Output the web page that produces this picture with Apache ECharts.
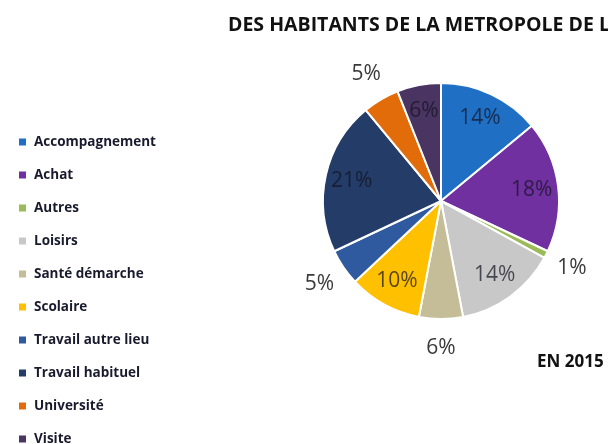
<!DOCTYPE html>
<html>
<head>
<meta charset="utf-8">
<script src="https://cdn.jsdelivr.net/npm/echarts@6/dist/echarts.min.js"></script>
<style>
html,body{margin:0;padding:0;background:#fff;}
#chart{width:608px;height:444px;}
</style>
</head>
<body>
<div id="chart"></div>
<script>
const categories = ['Accompagnement','Achat','Autres','Loisirs','Santé démarche','Scolaire','Travail autre lieu','Travail habituel','Université','Visite'];
const values = [14, 18, 1, 14, 6, 10, 5, 21, 5, 6];
const colors = ['#1F6FC4','#7030A0','#9BBB59','#C8C8C8','#C4BD97','#FFC000','#2F5AA0','#233C68','#E36C0A','#4A3462'];
const outsideLabels = ['Autres','Santé démarche','Travail autre lieu','Université'];
const titleText = 'DES HABITANTS DE LA METROPOLE DE LYON';
const subText = 'EN 2015';

const chart = echarts.init(document.getElementById('chart'));
const center = [441, 201];
const R = 118;

const mainData = categories.map((c,i)=>({name:c, value:values[i], itemStyle:{color:colors[i]}}));
const innerLabelData = categories.map((c,i)=>({name:c, value:values[i], label:{show: outsideLabels.indexOf(c) < 0}}));
const outerLabelData = categories.map((c,i)=>({name:c, value:values[i], label:{show: outsideLabels.indexOf(c) >= 0}}));

chart.setOption({
  animation:false,
  graphic:[
    {type:'text', left:228, top:15, style:{text:titleText, font:'bold 19.5px "Open Sans", sans-serif', fill:'#111'}},
    {type:'text', left:537, top:354, style:{text:subText, font:'bold 17px "Open Sans", sans-serif', fill:'#111'}}
  ],
  legend:{
    orient:'vertical', left:12, top:130, height:320,
    itemWidth:9, itemHeight:9, itemGap:19,
    icon:'rect',
    data:categories,
    textStyle:{fontFamily:'"Open Sans", sans-serif', fontWeight:'bold', fontSize:13.5, color:'#1a1a2e', lineHeight:14, padding:[0,0,0,2]}
  },
  series:[
    {
      type:'pie', center:center, radius:[0,R], startAngle:90, clockwise:true,
      silent:true, label:{show:false}, labelLine:{show:false},
      itemStyle:{borderColor:'#fff', borderWidth:2},
      data:mainData
    },
    {
      type:'pie', center:center, radius:[R*0.5,R], startAngle:90, clockwise:true,
      silent:true, itemStyle:{color:'rgba(0,0,0,0)'}, labelLine:{show:false},
      label:{position:'inside', formatter:'{c}%', fontSize:21, fontFamily:'"Open Sans", sans-serif', color:'rgba(20,20,35,0.72)'},
      legendHoverLink:false,
      data:innerLabelData
    },
    {
      type:'pie', center:center, radius:[R,R*1.44], startAngle:90, clockwise:true,
      silent:true, itemStyle:{color:'rgba(0,0,0,0)'}, labelLine:{show:false},
      label:{position:'inside', formatter:'{c}%', fontSize:21, fontFamily:'"Open Sans", sans-serif', color:'#3a3a3a'},
      legendHoverLink:false,
      data:outerLabelData
    }
  ]
});
</script>
</body>
</html>
